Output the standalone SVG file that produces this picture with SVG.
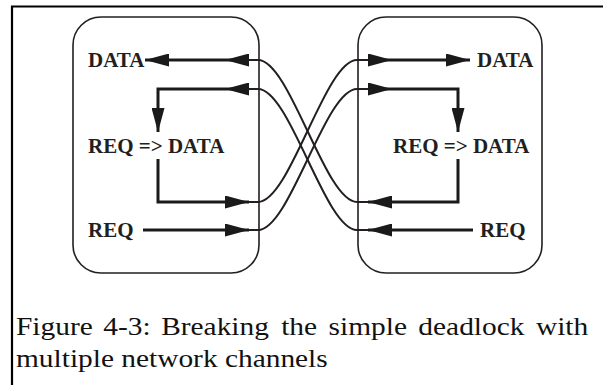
<svg xmlns="http://www.w3.org/2000/svg" width="603" height="385" viewBox="0 0 603 385">
  <style>
    .frame { fill: none; stroke: #000; stroke-width: 2.2; }
    .box { fill: none; stroke: #231f20; stroke-width: 1.6; }
    .arr { fill: none; stroke: #1a1a1a; stroke-width: 3; marker-end: url(#head); }
    .link { fill: none; stroke: #231f20; stroke-width: 2; }
    .lbl { font-family: "Liberation Serif", "Times New Roman", serif; font-weight: bold; font-size: 21px; fill: #231f20; }
    .cap { font-family: "Liberation Serif", "Times New Roman", serif; font-size: 24.5px; fill: #111; }
  </style>
  <defs>
    <marker id="head" markerUnits="userSpaceOnUse" markerWidth="24" markerHeight="13" refX="24" refY="6.5" orient="auto">
      <path d="M0,0 L24,6.5 L0,13 z" fill="#1a1a1a"/>
    </marker>
  </defs>

  <!-- figure frame (open on the right and bottom) -->
  <path class="frame" d="M12,385 V6.5 H603"/>

  <!-- left processor -->
  <g id="node-left">
    <rect class="box" x="73" y="17" width="186" height="256" rx="28" ry="28"/>
    <text class="lbl" x="88" y="67">DATA</text>
    <text class="lbl" x="88" y="153">REQ =&gt; DATA</text>
    <text class="lbl" x="88" y="237">REQ</text>
  </g>

  <!-- right processor -->
  <g id="node-right">
    <rect class="box" x="358" y="17" width="184" height="256" rx="28" ry="28"/>
    <text class="lbl" x="477" y="67">DATA</text>
    <text class="lbl" x="393" y="153">REQ =&gt; DATA</text>
    <text class="lbl" x="480" y="237">REQ</text>
  </g>

  <g id="connectors">
    <!-- left side arrows -->
    <path class="arr" d="M249,60 H225"/>
    <path class="arr" d="M225,60 H145"/>
    <path class="arr" d="M249,89 H225"/>
    <path class="arr" d="M225,89 H158 V132"/>
    <path class="arr" d="M158,159 V202 H249"/>
    <path class="arr" d="M143,230 H249"/>
    <!-- right side arrows -->
    <path class="arr" d="M368,60 H392"/>
    <path class="arr" d="M392,60 H470"/>
    <path class="arr" d="M368,89 H392"/>
    <path class="arr" d="M392,89 H458 V132"/>
    <path class="arr" d="M458,159 V202 H368"/>
    <path class="arr" d="M473,230 H368"/>
    <!-- crossed network channels -->
    <path class="link" d="M249,60 H258 C290,60 325,202 357,202 H368"/>
    <path class="link" d="M249,89 H258 C290,89 325,230 357,230 H368"/>
    <path class="link" d="M249,202 H258 C290,202 325,60 357,60 H368"/>
    <path class="link" d="M249,230 H258 C290,230 325,89 357,89 H368"/>
  </g>

  <!-- caption, set wide and justified on the first line -->
  <g transform="translate(16 0) scale(1.2 1)">
    <text class="cap" y="335.5"><tspan x="0">Figure</tspan><tspan x="72.7">4-3:</tspan><tspan x="121">Breaking</tspan><tspan x="221">the</tspan><tspan x="260.5">simple</tspan><tspan x="335.3">deadlock</tspan><tspan x="433.3">with</tspan></text>
    <text class="cap" x="0" y="366.5">multiple network channels</text>
  </g>
</svg>
